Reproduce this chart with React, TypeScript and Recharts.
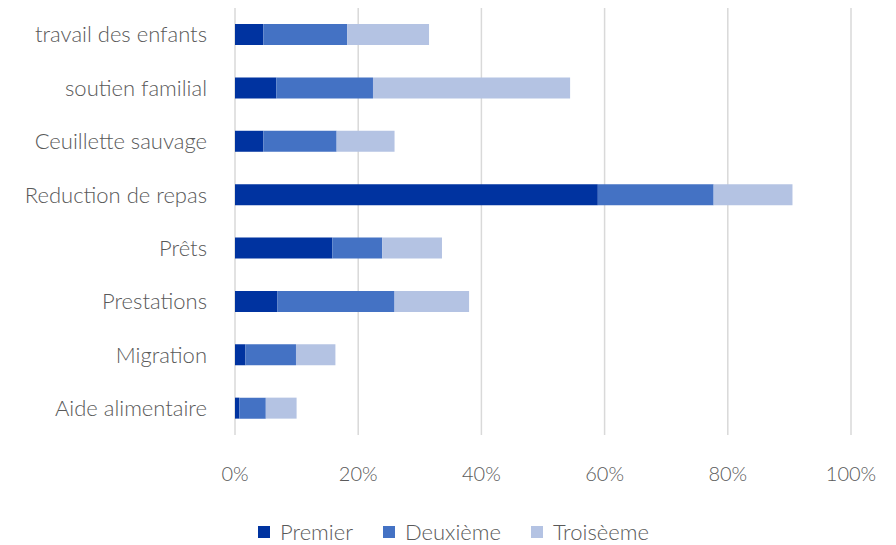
import React from 'react';
import {Bar, BarChart, CartesianGrid, Legend, XAxis, YAxis} from "recharts";

const categories = [
    'travail des enfants',
    'soutien familial',
    'Ceuillette sauvage',
    'Reduction de repas',
    'Prêts',
    'Prestations',
    'Migration',
    'Aide alimentaire',
];
const premier = [4.6, 6.7, 4.6, 58.9, 15.8, 6.9, 1.7, 0.7];
const deuxieme = [13.6, 15.7, 11.9, 18.8, 8.1, 19.0, 8.2, 4.3];
const troisieme = [13.3, 32.0, 9.4, 12.8, 9.7, 12.1, 6.4, 5.0];
const xTicks = [0, 20, 40, 60, 80, 100];

const seriesNames = ['Premier', 'Deuxième', 'Troisèeme'];
const colors = ['#0033A0', '#4472C4', '#B4C3E3'];
const font = 'Lato, "Open Sans", sans-serif';
const textColor = '#595959';

const LegendContent = ({payload}: any) => {
    const items = [...(payload || [])].sort(
        (a: any, b: any) => seriesNames.indexOf(a.value) - seriesNames.indexOf(b.value));
    return (
        <div style={{display: 'flex', alignItems: 'center', fontFamily: font, fontWeight: 300, fontSize: 22, color: textColor}}>
            {items.map((p: any, i: number) => (
                <div key={i} style={{display: 'flex', alignItems: 'center', marginRight: 30}}>
                    <span style={{width: 12, height: 12, background: p.color, marginRight: 10, display: 'inline-block'}}/>
                    <span>{p.value}</span>
                </div>
            ))}
        </div>
    );
};

const App = () => {
    const data = categories.map((name, i) => ({
        name,
        premier: premier[i],
        deuxieme: deuxieme[i],
        troisieme: troisieme[i],
    }));
    return (
        <div style={{position: 'fixed', left: 0, top: 0, width: 896, height: 545, background: '#fff'}}>
            <BarChart width={896} height={545} data={data} layout="vertical"
                      margin={{top: 8, right: 45, left: 0, bottom: 0}} barCategoryGap="30%">
                <CartesianGrid horizontal={false} stroke="#D9D9D9" strokeWidth={1.5}/>
                <XAxis type="number" domain={[0, 100]} ticks={xTicks} tickFormatter={(v) => v + '%'}
                       axisLine={false} tickLine={false} tickSize={0} tickMargin={32} height={83}
                       tick={{fill: textColor, fontSize: 20, fontFamily: font, fontWeight: 300}}/>
                <YAxis type="category" dataKey="name" width={235} axisLine={false} tickLine={false}
                       tickSize={0} tickMargin={28}
                       tick={{fill: textColor, fontSize: 22, fontFamily: font, fontWeight: 300}}/>
                <Legend verticalAlign="bottom" content={<LegendContent/>}
                        wrapperStyle={{left: 258, width: 'auto', bottom: 0}}/>
                <Bar dataKey="premier" name={seriesNames[0]} stackId="a" fill={colors[0]} isAnimationActive={false}/>
                <Bar dataKey="deuxieme" name={seriesNames[1]} stackId="a" fill={colors[1]} isAnimationActive={false}/>
                <Bar dataKey="troisieme" name={seriesNames[2]} stackId="a" fill={colors[2]} isAnimationActive={false}/>
            </BarChart>
        </div>
    );
}

export default App;
